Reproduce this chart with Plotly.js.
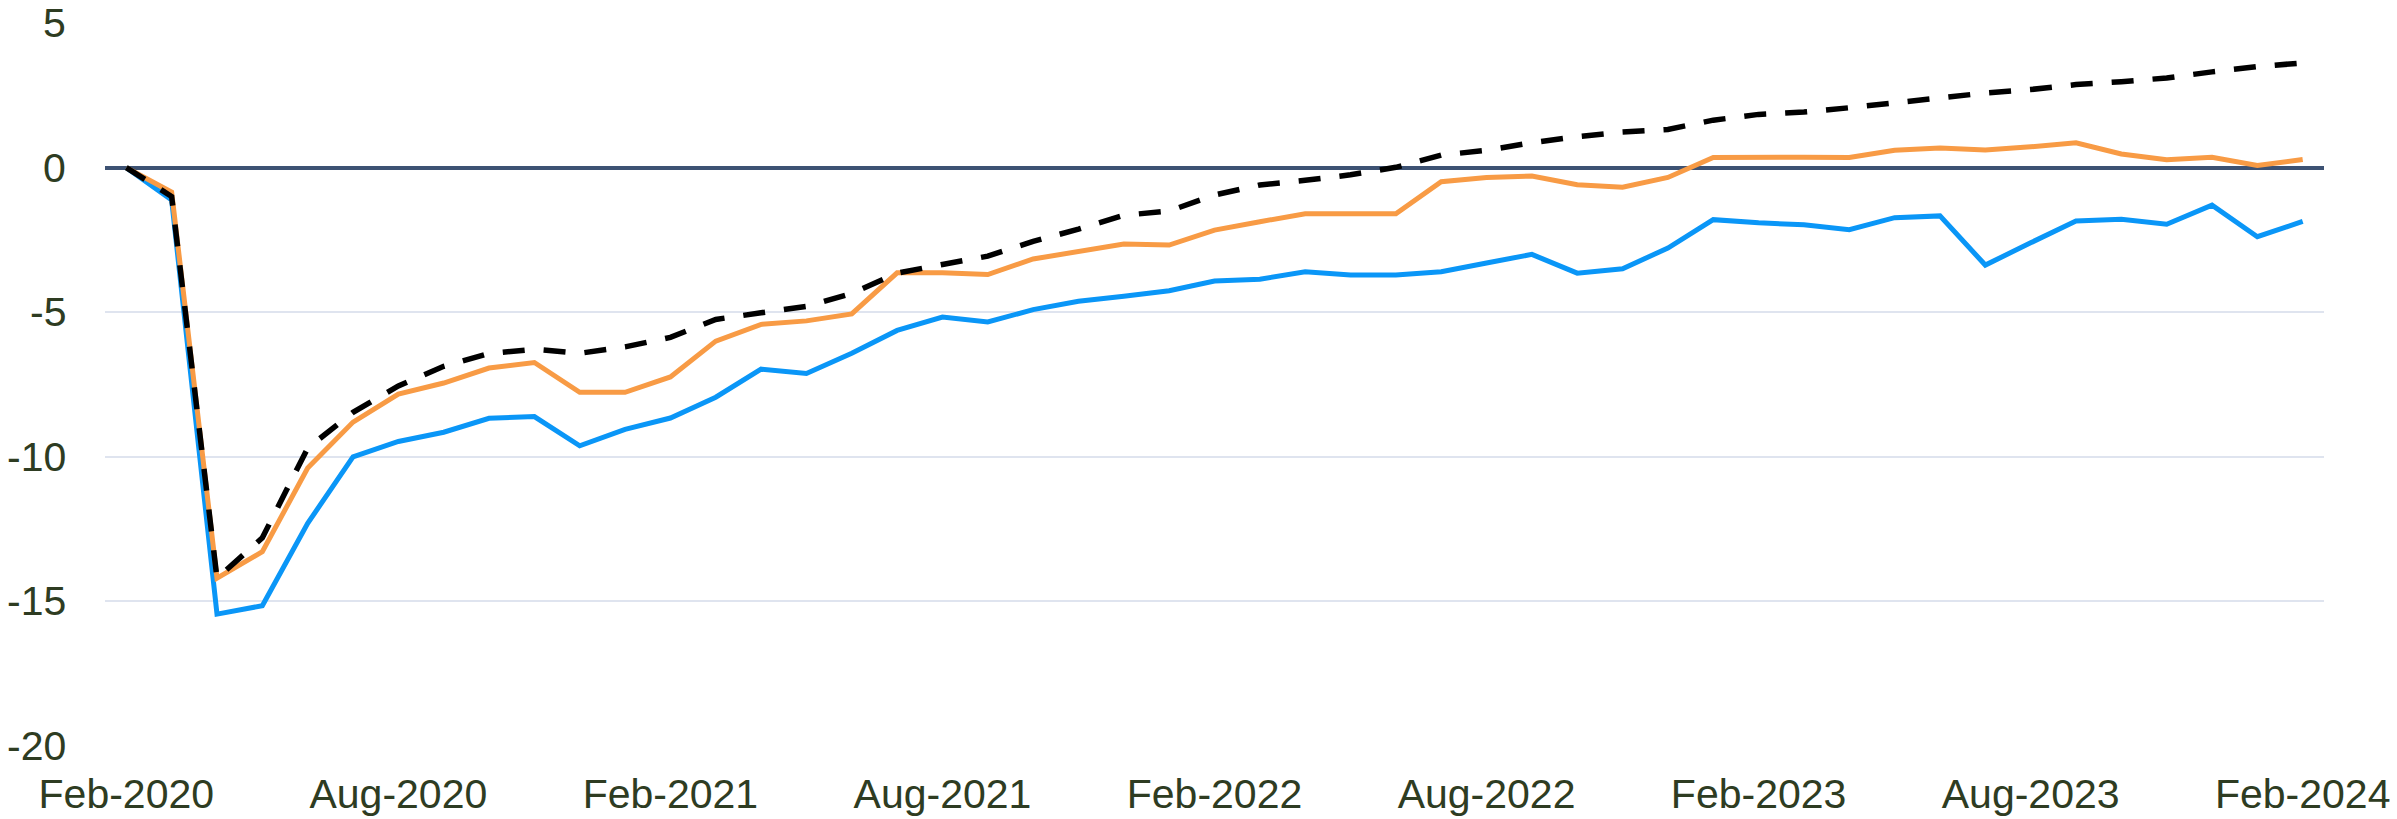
<!DOCTYPE html>
<html>
<head>
<meta charset="utf-8">
<script src="https://cdn.plot.ly/plotly-3.0.1.min.js"></script>
<style>html,body{margin:0;padding:0;background:#fff;}#chart{width:2397px;height:819px;}</style>
</head>
<body>
<div id="chart"></div>
<script>
const months = ["Feb-2020","Mar-2020","Apr-2020","May-2020","Jun-2020","Jul-2020","Aug-2020","Sep-2020","Oct-2020","Nov-2020","Dec-2020",
"Jan-2021","Feb-2021","Mar-2021","Apr-2021","May-2021","Jun-2021","Jul-2021","Aug-2021","Sep-2021","Oct-2021","Nov-2021","Dec-2021",
"Jan-2022","Feb-2022","Mar-2022","Apr-2022","May-2022","Jun-2022","Jul-2022","Aug-2022","Sep-2022","Oct-2022","Nov-2022","Dec-2022",
"Jan-2023","Feb-2023","Mar-2023","Apr-2023","May-2023","Jun-2023","Jul-2023","Aug-2023","Sep-2023","Oct-2023","Nov-2023","Dec-2023",
"Jan-2024","Feb-2024"];

const blueSeries = [0,-1.12,-15.44,-15.15,-12.3,-10.0,-9.47,-9.15,-8.67,-8.61,-9.62,
-9.05,-8.66,-7.94,-6.97,-7.12,-6.42,-5.63,-5.17,-5.34,-4.91,-4.62,-4.45,
-4.26,-3.92,-3.86,-3.6,-3.71,-3.71,-3.6,-3.3,-3.0,-3.65,-3.5,-2.78,
-1.8,-1.91,-1.98,-2.15,-1.73,-1.67,-3.37,-2.6,-1.85,-1.79,-1.96,-1.3,
-2.39,-1.86];

const orangeSeries = [0,-0.85,-14.2,-13.28,-10.39,-8.8,-7.83,-7.45,-6.93,-6.74,-7.77,
-7.77,-7.24,-6.0,-5.42,-5.3,-5.06,-3.64,-3.64,-3.7,-3.16,-2.9,-2.64,
-2.68,-2.16,-1.87,-1.6,-1.6,-1.6,-0.49,-0.34,-0.29,-0.59,-0.68,-0.34,
0.35,0.37,0.36,0.35,0.6,0.68,0.61,0.72,0.86,0.47,0.27,0.36,
0.07,0.28];

const dashedSeries = [0,-1.0,-14.2,-12.8,-9.7,-8.46,-7.55,-6.87,-6.43,-6.28,-6.42,
-6.2,-5.87,-5.25,-5.02,-4.8,-4.35,-3.65,-3.35,-3.06,-2.55,-2.13,-1.65,
-1.5,-0.95,-0.6,-0.44,-0.25,0.01,0.43,0.6,0.86,1.07,1.23,1.32,
1.64,1.84,1.92,2.07,2.25,2.42,2.58,2.7,2.87,2.97,3.1,3.31,
3.49,3.62];

const xTickLabels = ["Feb-2020","Aug-2020","Feb-2021","Aug-2021","Feb-2022","Aug-2022","Feb-2023","Aug-2023","Feb-2024"];
const yTickValues = [-20,-15,-10,-5,0,5];

const traces = [
  {x: months, y: blueSeries, type: 'scatter', mode: 'lines', line: {color: '#0A96F7', width: 5}, hoverinfo: 'skip'},
  {x: months, y: orangeSeries, type: 'scatter', mode: 'lines', line: {color: '#F89B45', width: 5}, hoverinfo: 'skip'},
  {x: months, y: dashedSeries, type: 'scatter', mode: 'lines', line: {color: '#000000', width: 5.5, dash: '22px,19px'}, hoverinfo: 'skip'}
];

const tickFont = {family: '"Liberation Sans", Arial, sans-serif', size: 41, color: '#2e3c22'};

const yLabelAnnotations = yTickValues.map(v => ({
  xref: 'paper', x: 0, xanchor: 'right', xshift: -37,
  yref: 'y', y: v, yanchor: 'middle',
  text: String(v), showarrow: false, font: tickFont
}));

const layout = {
  width: 2397, height: 819,
  margin: {l: 105, r: 73, t: 23, b: 73, pad: 0},
  paper_bgcolor: '#ffffff', plot_bgcolor: '#ffffff',
  showlegend: false,
  xaxis: {
    type: 'category',
    range: [-0.47, 48.47],
    tickmode: 'array', tickvals: xTickLabels, ticktext: xTickLabels,
    showgrid: false, zeroline: false, showline: false,
    ticks: 'outside', ticklen: 12, tickcolor: 'rgba(0,0,0,0)',
    ticklabeloverflow: 'allow',
    tickfont: tickFont
  },
  yaxis: {
    range: [-20, 5],
    tickmode: 'array', tickvals: yTickValues,
    showticklabels: false,
    showgrid: true, gridcolor: '#dfe4ef', gridwidth: 2,
    zeroline: true, zerolinecolor: '#3d5273', zerolinewidth: 4,
    showline: false, ticks: ''
  },
  annotations: yLabelAnnotations
};

Plotly.newPlot('chart', traces, layout, {staticPlot: true, displayModeBar: false});
</script>
</body>
</html>
